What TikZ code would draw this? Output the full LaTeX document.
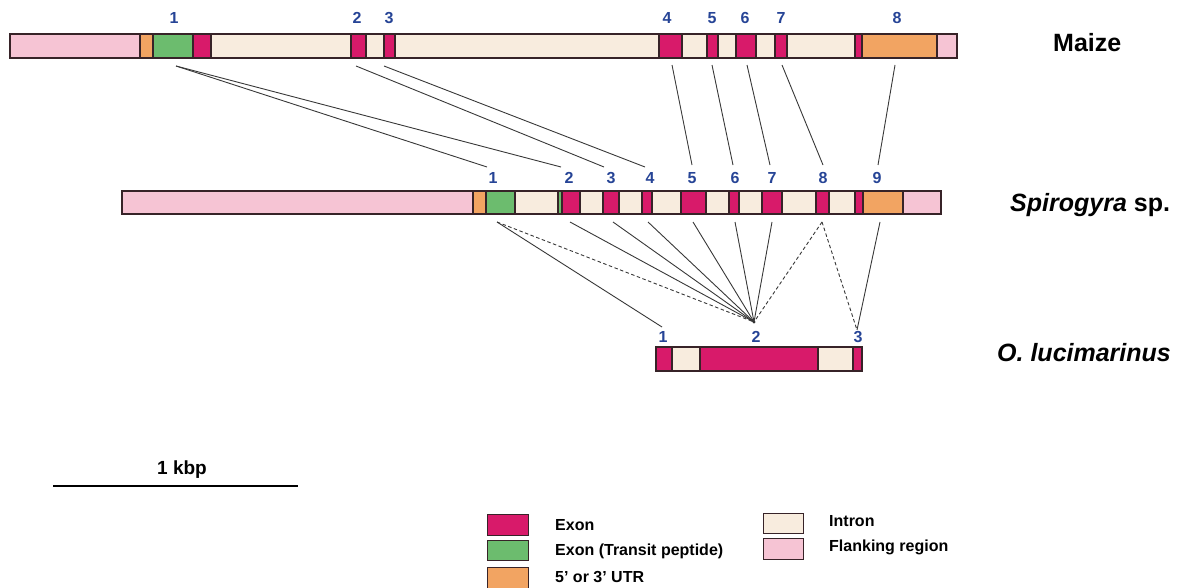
\documentclass[tikz,border=0pt]{standalone}
\usepackage{fontspec}
\setmainfont{Liberation Sans}
\definecolor{exon}{RGB}{216,26,106}
\definecolor{tp}{RGB}{108,188,110}
\definecolor{utr}{RGB}{242,164,98}
\definecolor{intr}{RGB}{248,236,222}
\definecolor{flank}{RGB}{246,196,212}
\definecolor{numc}{RGB}{38,68,150}
\definecolor{edge}{RGB}{55,35,40}
\tikzset{
  seg/.style={draw=edge, line width=1.3pt},
  num/.style={text=numc, font=\fontsize{16}{16}\selectfont\bfseries, inner sep=0pt},
  spname/.style={font=\fontsize{25}{25}\selectfont\bfseries, anchor=west, inner sep=0pt},
  conn/.style={draw=black!78, line width=0.9pt},
  dconn/.style={conn, dash pattern=on 3.5pt off 2.5pt},
  legbox/.style={draw=edge, line width=1pt},
  legtext/.style={font=\fontsize{16}{16}\selectfont\bfseries, anchor=west, inner sep=0pt},
}
\begin{document}
\begin{tikzpicture}[x=1pt,y=-1pt]
\useasboundingbox (0,0) rectangle (1182,588);

% ---- Maize gene
\foreach \a/\b/\c in {10/140/flank,140/153/utr,153/193/tp,193/211/exon,211/351/intr,351/366/exon,366/384/intr,384/395/exon,395/659/intr,659/682/exon,682/707/intr,707/718/exon,718/736/intr,736/756/exon,756/775/intr,775/787/exon,787/855/intr,855/862/exon,862/937/utr,937/957/flank}
  \draw[seg, fill=\c] (\a,34) rectangle (\b,58);

% ---- Spirogyra gene
\foreach \a/\b/\c in {122/473/flank,473/486/utr,486/515/tp,515/558/intr,558/562/tp,562/580/exon,580/603/intr,603/619/exon,619/642/intr,642/652/exon,652/681/intr,681/706/exon,706/729/intr,729/739/exon,739/762/intr,762/782/exon,782/816/intr,816/829/exon,829/855/intr,855/863/exon,863/903/utr,903/941/flank}
  \draw[seg, fill=\c] (\a,191) rectangle (\b,214);

% ---- O. lucimarinus gene
\foreach \a/\b/\c in {656/672/exon,672/700/intr,700/818/exon,818/853/intr,853/862/exon}
  \draw[seg, fill=\c] (\a,347) rectangle (\b,371);

% ---- exon numbers
\foreach \n/\x in {1/174,2/357,3/389,4/667,5/712,6/745,7/781,8/897}
  \node[num] (m\n) at (\x,18) {\n};
\foreach \n/\x in {1/493,2/569,3/611,4/650,5/692,6/735,7/772,8/823,9/877}
  \node[num] (s\n) at (\x,178) {\n};
\foreach \n/\x in {1/663,2/756,3/858}
  \node[num] (o\n) at (\x,337) {\n};

% ---- species names
\node[spname] (maize) at (1053,43) {Maize};
\node[spname] (spiro) at (1010,205) {\textit{Spirogyra} sp.};
\node[spname] (oluc) at (997,353) {\textit{O. lucimarinus}};

% ---- connector end points
\coordinate (am1) at (176,66);
\coordinate (am2) at (356,66);
\coordinate (am3) at (384,66);
\coordinate (am4) at (672,65);
\coordinate (am5) at (712,65);
\coordinate (am6) at (747,65);
\coordinate (am7) at (782,65);
\coordinate (am8) at (895,65);
\coordinate (bs1) at (487,167);
\coordinate (bs2) at (561,167);
\coordinate (bs3) at (604,167);
\coordinate (bs4) at (645,167);
\coordinate (bs5) at (692,165);
\coordinate (bs6) at (733,165);
\coordinate (bs7) at (770,165);
\coordinate (bs8) at (823,165);
\coordinate (bs9) at (878,165);
\foreach \n/\x in {1/497,2/570,3/613,4/648,5/693,6/735,7/772,8/822,9/880}
  \coordinate (cs\n) at (\x,222);
\coordinate (do1) at (662,327);
\coordinate (do2) at (754,322);
\coordinate (do3) at (857,330);

% ---- maize -> Spirogyra
\draw[conn] (am1) -- (bs1);
\draw[conn] (am1) -- (bs2);
\draw[conn] (am2) -- (bs3);
\draw[conn] (am3) -- (bs4);
\draw[conn] (am4) -- (bs5);
\draw[conn] (am5) -- (bs6);
\draw[conn] (am6) -- (bs7);
\draw[conn] (am7) -- (bs8);
\draw[conn] (am8) -- (bs9);

% ---- Spirogyra -> O. lucimarinus
\draw[conn] (cs1) -- (do1);
\draw[dconn] (cs1) -- (do2);
\foreach \n in {2,3,4,5,6,7}
  \draw[conn] (cs\n) -- (do2);
\draw[dconn] (cs8) -- (do2);
\draw[dconn] (cs8) -- (do3);
\draw[conn] (cs9) -- (do3);
\fill[black!80] (do2) circle (1.6);

% ---- scale bar
\coordinate (sbl) at (53,486);
\coordinate (sbr) at (298,486);
\draw[line width=2pt] (sbl) -- (sbr);
\node[font=\fontsize{19}{19}\selectfont\bfseries, inner sep=0pt] (kbp) at (182,470) {1 kbp};

% ---- legend
\draw[legbox, fill=exon] (487,514) rectangle (528,535);
\draw[legbox, fill=tp] (487,540) rectangle (528,560);
\draw[legbox, fill=utr] (487,567) rectangle (528,588);
\draw[legbox, fill=intr] (763,513) rectangle (803,533);
\draw[legbox, fill=flank] (763,538) rectangle (803,559);
\node[legtext] (lexon) at (555,525) {Exon};
\node[legtext] (ltp) at (555,551) {Exon (Transit peptide)};
\node[legtext] (lutr) at (555,577) {5' or 3' UTR};
\node[legtext] (lintr) at (829,521) {Intron};
\node[legtext] (lflank) at (829,547) {Flanking region};
\end{tikzpicture}
\end{document}
